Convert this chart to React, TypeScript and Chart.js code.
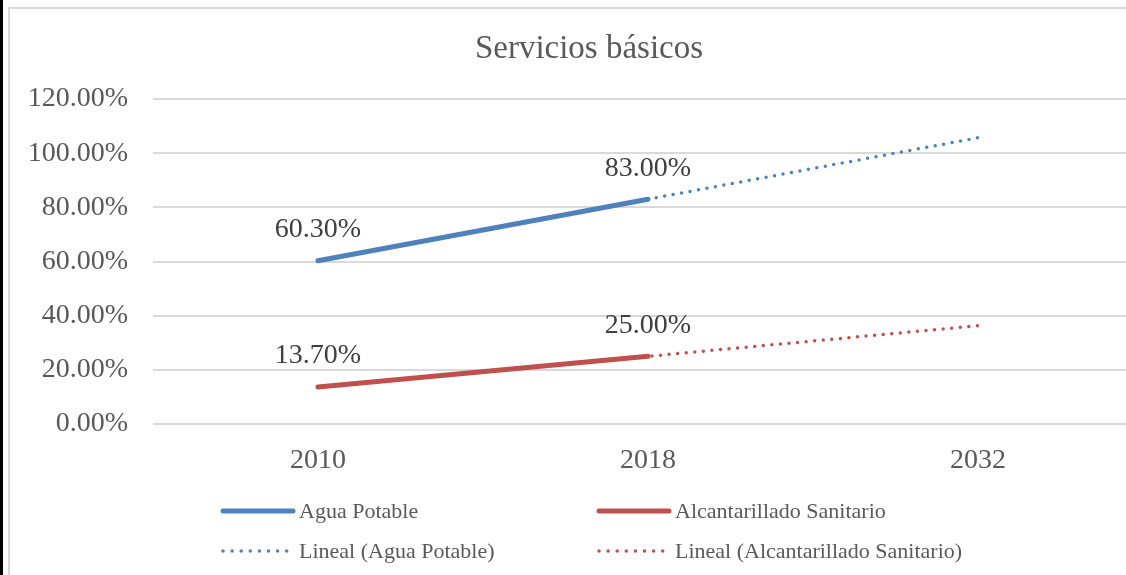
import React, { useEffect, useRef } from 'react';
import { Chart, registerables } from 'chart.js';

Chart.register(...registerables);

const chartTitle = 'Servicios básicos';
const categories = ['2010', '2018', '2032'];
const aguaPotable = [60.3, 83.0, null];
const alcantarillado = [13.7, 25.0, null];
const aguaTrend = [60.3, 83.0, 105.7];
const alcantarilladoTrend = [13.7, 25.0, 36.3];
const yMin = 0;
const yMax = 120;
const yStep = 20;

const BLUE = '#4F81BD';
const RED = '#C0504D';
const FONT = "'Liberation Serif', 'Times New Roman', serif";

const titlePlugin = {
  id: 'boxTitle',
  afterDraw(chart: any) {
    const ctx = chart.ctx;
    ctx.save();
    ctx.font = `33px ${FONT}`;
    ctx.fillStyle = '#595959';
    ctx.textAlign = 'center';
    ctx.textBaseline = 'alphabetic';
    ctx.fillText(chartTitle, 579, 49);
    ctx.restore();
  },
};

const dataLabelPlugin = {
  id: 'dataLabels',
  afterDatasetsDraw(chart: any) {
    const ctx = chart.ctx;
    ctx.save();
    ctx.font = `28px ${FONT}`;
    ctx.fillStyle = '#404040';
    ctx.textAlign = 'center';
    ctx.textBaseline = 'middle';
    chart.data.datasets.forEach((ds: any, i: number) => {
      if (!ds.showLabels) return;
      const meta = chart.getDatasetMeta(i);
      meta.data.forEach((pt: any, j: number) => {
        const v = ds.data[j];
        if (v === null || v === undefined) return;
        ctx.fillText(v.toFixed(2) + '%', pt.x, pt.y - 31);
      });
    });
    ctx.restore();
  },
};

const legendPlugin = {
  id: 'gridLegend',
  afterDraw(chart: any) {
    const ctx = chart.ctx;
    const area = chart.chartArea;
    const cols = [area.left + 69, area.left + 445];
    const rows = [area.bottom + 87, area.bottom + 127];
    ctx.save();
    ctx.font = `22px ${FONT}`;
    ctx.textBaseline = 'middle';
    ctx.textAlign = 'left';
    chart.data.datasets.forEach((ds: any) => {
      const x = cols[ds.legendCol];
      const y = rows[ds.legendRow];
      ctx.beginPath();
      ctx.strokeStyle = ds.borderColor;
      ctx.lineCap = 'round';
      if (ds.borderDash && ds.borderDash.length) {
        ctx.lineWidth = 3.5;
        ctx.setLineDash([0, 9.1]);
        ctx.moveTo(x + 1, y);
        ctx.lineTo(x + 66, y);
      } else {
        ctx.lineWidth = 5;
        ctx.setLineDash([]);
        ctx.moveTo(x + 1, y);
        ctx.lineTo(x + 71, y);
      }
      ctx.stroke();
      ctx.setLineDash([]);
      ctx.fillStyle = '#595959';
      ctx.fillText(ds.label, x + 77, y + 1);
    });
    ctx.restore();
  },
};

export default function App() {
  const ref = useRef<HTMLCanvasElement | null>(null);

  useEffect(() => {
    if (!ref.current) return;
    Chart.defaults.font.family = FONT;
    const chart = new Chart(ref.current, {
      type: 'line',
      data: {
        labels: categories,
        datasets: [
          {
            label: 'Agua Potable',
            data: aguaPotable,
            borderColor: BLUE,
            backgroundColor: BLUE,
            borderWidth: 5,
            borderCapStyle: 'round',
            pointRadius: 0,
            order: 0,
            showLabels: true,
            legendCol: 0,
            legendRow: 0,
          } as any,
          {
            label: 'Alcantarillado Sanitario',
            data: alcantarillado,
            borderColor: RED,
            backgroundColor: RED,
            borderWidth: 5,
            borderCapStyle: 'round',
            pointRadius: 0,
            order: 0,
            showLabels: true,
            legendCol: 1,
            legendRow: 0,
          } as any,
          {
            label: 'Lineal (Agua Potable)',
            data: aguaTrend,
            borderColor: BLUE,
            backgroundColor: BLUE,
            borderWidth: 3.5,
            borderDash: [0, 8.6],
            borderCapStyle: 'round',
            pointRadius: 0,
            order: 1,
            legendCol: 0,
            legendRow: 1,
          } as any,
          {
            label: 'Lineal (Alcantarillado Sanitario)',
            data: alcantarilladoTrend,
            borderColor: RED,
            backgroundColor: RED,
            borderWidth: 3.5,
            borderDash: [0, 8.6],
            borderCapStyle: 'round',
            pointRadius: 0,
            order: 1,
            legendCol: 1,
            legendRow: 1,
          } as any,
        ],
      },
      options: {
        responsive: false,
        animation: false,
        devicePixelRatio: 1,
        layout: { padding: { left: 0, right: 17, top: 90, bottom: 0 } },
        plugins: {
          legend: { display: false },
          tooltip: { enabled: false },
          title: { display: false },
        },
        scales: {
          x: {
            type: 'category',
            offset: true,
            grid: { display: false, drawTicks: false },
            border: { display: false },
            ticks: {
              color: '#595959',
              font: { family: FONT, size: 28 },
              padding: 20,
              maxRotation: 0,
            },
            afterFit(scale: any) {
              scale.height = 165;
            },
          },
          y: {
            min: yMin,
            max: yMax,
            grid: { color: '#D9D9D9', lineWidth: 2, drawTicks: false },
            border: { display: false },
            ticks: {
              stepSize: yStep,
              color: '#595959',
              font: { family: FONT, size: 28 },
              padding: 25,
              callback: (v: any) => Number(v).toFixed(2) + '%',
            },
            afterFit(scale: any) {
              scale.width = 143;
            },
          },
        },
      } as any,
      plugins: [titlePlugin, dataLabelPlugin, legendPlugin],
    });
    return () => chart.destroy();
  }, []);

  return (
    <div
      style={{
        position: 'absolute',
        left: 0,
        top: 0,
        width: 1126,
        height: 575,
        overflow: 'hidden',
        background: '#FFFFFF',
      }}
    >
      <div style={{ position: 'absolute', left: 0, top: 0, width: 3, height: 575, background: '#000000' }} />
      <div
        style={{
          position: 'absolute',
          left: 8,
          top: 7,
          width: 1200,
          height: 640,
          border: '2px solid #D9D9D9',
          boxSizing: 'border-box',
        }}
      >
        <canvas ref={ref} width={1150} height={580} style={{ display: 'block', width: 1150, height: 580 }} />
      </div>
    </div>
  );
}
